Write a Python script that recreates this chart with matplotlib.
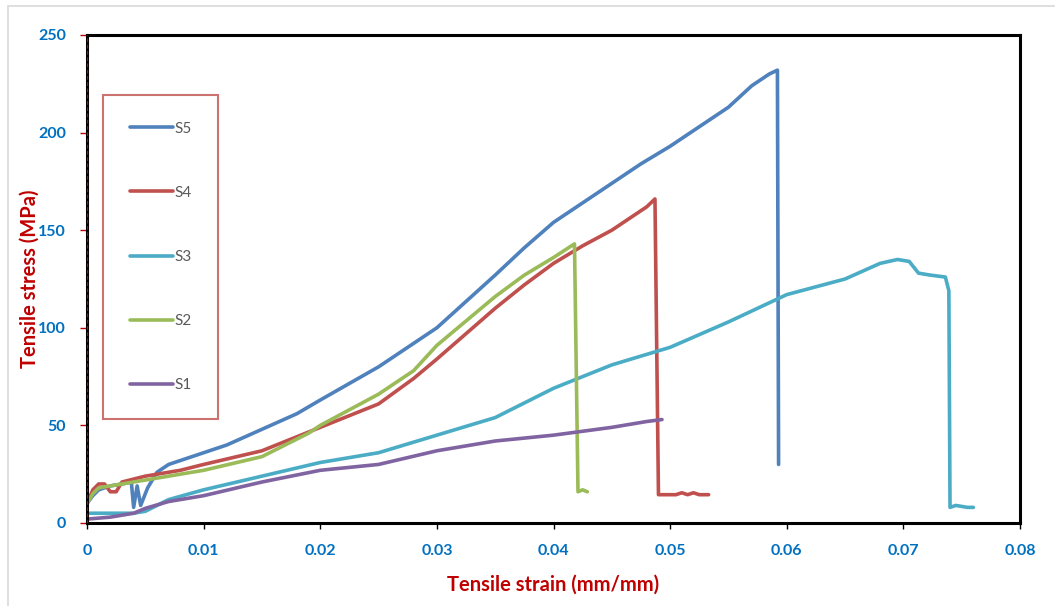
import matplotlib
matplotlib.use('Agg')
import matplotlib.pyplot as plt
from matplotlib.patches import Rectangle

# strain (mm/mm) and stress (MPa)
s5_x = [0, 0.0005, 0.001, 0.002, 0.003, 0.0038, 0.0040, 0.0043, 0.0046, 0.0052, 0.006, 0.007,
        0.008, 0.01, 0.012, 0.015, 0.018, 0.02, 0.025, 0.03, 0.035, 0.0375, 0.04, 0.0425, 0.045,
        0.0475, 0.05, 0.0525, 0.055, 0.057, 0.0585, 0.0592, 0.0593]
s5_y = [10, 14, 17, 19, 20, 21, 8, 19, 9, 18, 26, 30, 32, 36, 40, 48, 56, 63, 80, 100, 127, 141,
        154, 164, 174, 184, 193, 203, 213, 224, 230, 232, 30]

s4_x = [0, 0.0005, 0.001, 0.0015, 0.002, 0.0025, 0.003, 0.005, 0.008, 0.01, 0.015, 0.02, 0.025,
        0.028, 0.03, 0.035, 0.0375, 0.04, 0.0425, 0.045, 0.048, 0.0487, 0.0490, 0.0505, 0.051,
        0.0515, 0.052, 0.0525, 0.0533]
s4_y = [10, 17, 20, 20, 16, 16, 21, 24, 27, 30, 37, 49, 61, 74, 84, 110, 122, 133, 142, 150,
        162, 166, 14.5, 14.5, 15.5, 14.5, 15.5, 14.5, 14.5]

s3_x = [0, 0.002, 0.004, 0.005, 0.006, 0.007, 0.01, 0.015, 0.02, 0.025, 0.03, 0.035, 0.04,
        0.045, 0.05, 0.055, 0.06, 0.065, 0.068, 0.0695, 0.0705, 0.0713, 0.0723, 0.0736, 0.0739,
        0.0740, 0.0745, 0.0755, 0.076]
s3_y = [5, 5, 5, 6, 9, 12, 17, 24, 31, 36, 45, 54, 69, 81, 90, 103, 117, 125, 133, 135, 134,
        128, 127, 126, 119, 8, 9, 8, 8]

s2_x = [0, 0.0005, 0.001, 0.002, 0.003, 0.005, 0.008, 0.01, 0.015, 0.019, 0.02, 0.025, 0.028,
        0.03, 0.035, 0.0375, 0.04, 0.0418, 0.0421, 0.0425, 0.0429]
s2_y = [10, 15, 18, 19, 20, 22, 25, 27, 34, 46, 50, 66, 78, 91, 116, 127, 136, 143, 16, 17, 16]

s1_x = [0, 0.002, 0.003, 0.004, 0.005, 0.007, 0.01, 0.015, 0.02, 0.025, 0.03, 0.035, 0.04,
        0.045, 0.048, 0.0493]
s1_y = [2, 3, 4, 5, 7.5, 11, 14, 21, 27, 30, 37, 42, 45, 49, 52, 53]

labels = ['S5', 'S4', 'S3', 'S2', 'S1']
colors = ['#4F81BD', '#C0504D', '#4BACC6', '#9BBB59', '#8064A2']

x_ticks = [0, 0.01, 0.02, 0.03, 0.04, 0.05, 0.06, 0.07, 0.08]
x_tick_labels = ['0', '0.01', '0.02', '0.03', '0.04', '0.05', '0.06', '0.07', '0.08']
y_ticks = [0, 50, 100, 150, 200, 250]

font = 'Lato'
tick_blue = '#0070C0'
label_red = '#C00000'

fig = plt.figure(figsize=(10.55, 6.06), dpi=100)
ax = fig.add_axes([87/1055, 1 - 523/606, 933/1055, 488/606])

series = [(s5_x, s5_y), (s4_x, s4_y), (s3_x, s3_y), (s2_x, s2_y), (s1_x, s1_y)]
for (xs, ys), lab, c in zip(series, labels, colors):
    ax.plot(xs, ys, color=c, lw=2.6, label=lab, solid_joinstyle='round', solid_capstyle='round')

ax.set_xlim(0, 0.08)
ax.set_ylim(0, 250)
ax.set_xticks(x_ticks)
ax.set_xticklabels(x_tick_labels)
ax.set_yticks(y_ticks)

for s in ax.spines.values():
    s.set_linewidth(2.2)
    s.set_color('black')
ax.axvline(0, color=label_red, lw=0.9, ls=(0, (3, 2)), zorder=5)

ax.tick_params(axis='y', colors=label_red, length=5, width=1, pad=10)
ax.tick_params(axis='x', colors='black', length=4, width=1, pad=11)
for t in ax.get_xticklabels() + ax.get_yticklabels():
    t.set_color(tick_blue)
    t.set_fontweight('bold')
    t.set_fontfamily(font)
    t.set_fontsize(11.5)

ax.set_xlabel('Tensile strain (mm/mm)', color=label_red, fontweight='bold',
              fontfamily=font, fontsize=14.5, labelpad=12)
ax.set_ylabel('Tensile stress (MPa)', color=label_red, fontweight='bold',
              fontfamily=font, fontsize=14.5, labelpad=-1)

leg = ax.legend(loc='upper left', bbox_to_anchor=(16/933, 1 - 60/488), frameon=True,
                fancybox=False, prop={'family': font, 'size': 11}, labelspacing=3.28,
                handlelength=2.8, handletextpad=0.1, borderpad=1.75, borderaxespad=0)
leg.get_frame().set_edgecolor('#C0504D')
leg.get_frame().set_linewidth(1.5)
for t in leg.get_texts():
    t.set_color('#595959')

fig.patches.append(Rectangle((8/1055, -0.05), 1.1, 1 - 6/606 + 0.05, transform=fig.transFigure,
                             fill=False, edgecolor='#D9D9D9', lw=1.2))

plt.savefig('out.png', dpi=100)
